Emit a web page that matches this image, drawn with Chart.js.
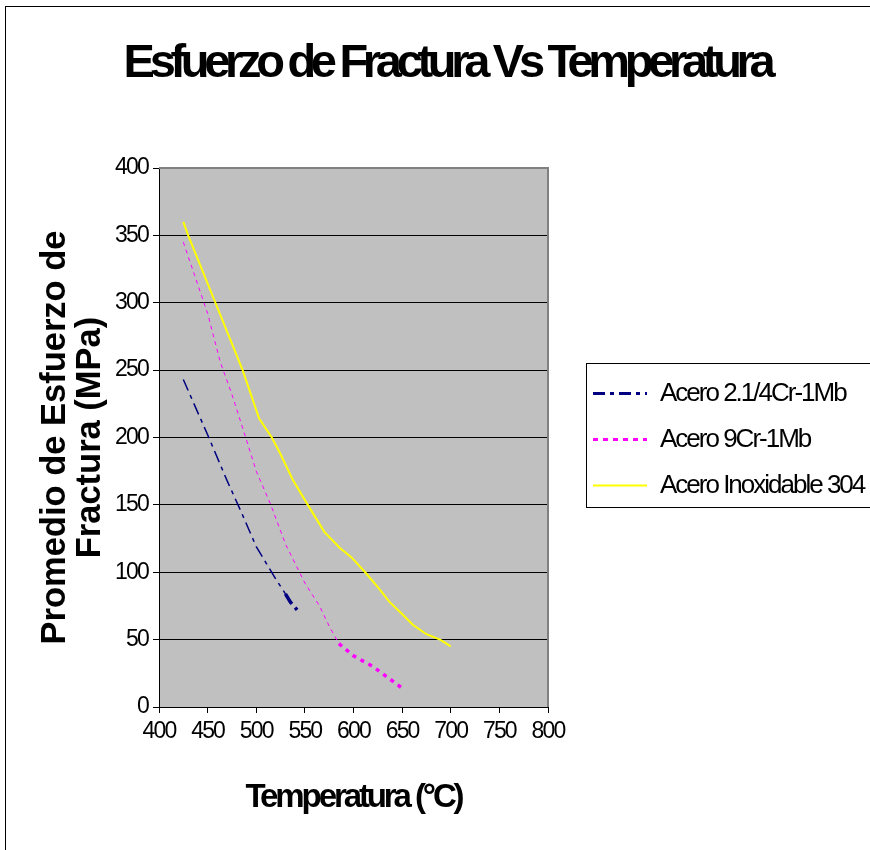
<!DOCTYPE html>
<html>
<head>
<meta charset="utf-8">
<script src="https://cdn.jsdelivr.net/npm/chart.js@4.4.1/dist/chart.umd.min.js"></script>
<style>
  html, body { margin: 0; padding: 0; background: #fff; }
  #wrap { width: 870px; height: 850px; }
</style>
</head>
<body>
<div id="wrap"><canvas id="fractureChart"></canvas></div>
<script>
// data
const seriesNames = ['Acero 2.1/4Cr-1Mb', 'Acero 9Cr-1Mb', 'Acero Inoxidable 304'];

const tempCrMo = [425, 450, 470, 485, 500, 510, 520, 530, 535, 542];
const stressCrMo = [243, 202, 168, 144, 119, 107, 95, 84, 78, 72];

const temp9Cr = [425, 450, 463, 475, 490, 500, 515, 530, 550, 565, 575, 585, 600, 620, 635, 650];
const stress9Cr = [345, 292, 256, 232, 198, 175, 150, 121, 92, 75, 60, 47, 38, 30, 22, 14];

const temp304 = [425, 430, 458, 486, 503, 516, 524, 538, 553, 570, 586, 598, 612, 625, 637, 650, 661, 675, 689, 700];
const stress304 = [360, 350, 300, 250, 214, 200, 189, 168, 150, 130, 118, 111, 100, 89, 78, 69, 61, 54, 50, 45];

const xTicks = [400, 450, 500, 550, 600, 650, 700, 750, 800];
const yTicks = [0, 50, 100, 150, 200, 250, 300, 350, 400];

const FONT = "'Liberation Sans', Arial, Helvetica, sans-serif";
const legendLineWidths = [3, 3, 2];
const legendDashes = [[12, 5, 4, 5], [5, 5], []];

function pts(xs, ys) {
  return xs.map(function (x, i) { return { x: x, y: ys[i] }; });
}

// draw a box/scale method with its own letter spacing (text in the original is condensed)
function spaced(obj, method, spacing, dx, dy) {
  const orig = obj[method];
  obj[method] = function () {
    const ctx = this.ctx;
    ctx.save();
    ctx.letterSpacing = spacing;
    ctx.translate(dx || 0, dy || 0);
    orig.apply(this, arguments);
    ctx.restore();
  };
}

const LEG_PAD = 20, LEG_FONT = 26, LEG_DX = 25, LEG_DY = 2;

const framePlugin = {
  id: 'frame',
  afterInit(chart) {
    spaced(chart.titleBlock, 'draw', '-5.3px', 12, 0);
    const legend = chart.legend;
    const fit = legend.fit;
    legend.fit = function () { fit.call(this); this.width = 322; };
    spaced(legend, 'draw', '-2px', LEG_DX, LEG_DY);
  },
  afterLayout(chart) {
    const { x, y } = chart.scales;
    if (!x._spaced) {
      spaced(x, 'drawLabels', '-1.8px');
      spaced(y, 'drawLabels', '-1.8px');
      spaced(x, 'drawTitle', '-3.1px');
      x._spaced = true;
    }
  },
  beforeDraw(chart) {
    const { ctx, chartArea: a } = chart;
    ctx.save();
    ctx.fillStyle = '#ffffff';
    ctx.fillRect(0, 0, chart.width, chart.height);
    ctx.fillStyle = '#c0c0c0';
    ctx.fillRect(a.left, a.top, a.right - a.left, a.bottom - a.top);
    ctx.restore();
  },
  afterDraw(chart) {
    const { ctx, chartArea: a, legend } = chart;
    ctx.save();
    // plot area top / right edge
    ctx.strokeStyle = '#808080';
    ctx.lineWidth = 2;
    ctx.beginPath();
    ctx.moveTo(a.left, a.top);
    ctx.lineTo(a.right, a.top);
    ctx.lineTo(a.right, a.bottom);
    ctx.stroke();
    // legend frame
    const n = chart.data.datasets.length;
    const itemsTop = (legend.top + LEG_PAD + legend.bottom - n * (LEG_FONT + LEG_PAD)) / 2 + LEG_DY;
    const fx = Math.round(legend.left + LEG_DX + LEG_PAD - 7) + 0.5;
    const fy = Math.round(itemsTop - 18) + 0.5;
    const fb = Math.round(itemsTop + n * (LEG_FONT + LEG_PAD) - LEG_PAD + 8) + 0.5;
    ctx.strokeStyle = '#000000';
    ctx.lineWidth = 1;
    ctx.strokeRect(fx, fy, chart.width, fb - fy);
    // outer chart frame
    ctx.strokeRect(5.5, 6.5, chart.width + 20, chart.height + 20);
    ctx.restore();
  }
};

const ctx = document.getElementById('fractureChart');

new Chart(ctx, {
  type: 'line',
  data: {
    datasets: [
      {
        label: seriesNames[0],
        data: pts(tempCrMo, stressCrMo),
        borderColor: '#000080',
        backgroundColor: '#000080',
        borderWidth: 1.5,
        borderDash: [12, 5, 4, 5],
        segment: {
          borderWidth: function (c) { return c.p0.parsed.x >= 530 ? 3.5 : 1.5; }
        }
      },
      {
        label: seriesNames[1],
        data: pts(temp9Cr, stress9Cr),
        borderColor: '#ff00ff',
        backgroundColor: '#ff00ff',
        borderWidth: 1,
        borderDash: [4, 4],
        segment: {
          borderWidth: function (c) { return c.p0.parsed.x >= 585 ? 3.5 : 1; },
          borderDash: function (c) { return c.p0.parsed.x >= 585 ? [4, 5] : [4, 4]; }
        }
      },
      {
        label: seriesNames[2],
        data: pts(temp304, stress304),
        borderColor: '#ffff00',
        backgroundColor: '#ffff00',
        borderWidth: 2
      }
    ]
  },
  options: {
    responsive: true,
    maintainAspectRatio: false,
    animation: false,
    layout: { padding: 0 },
    elements: {
      point: { radius: 0, hoverRadius: 0, pointStyle: 'line' },
      line: { tension: 0 }
    },
    plugins: {
      tooltip: { enabled: false },
      title: {
        display: true,
        text: 'Esfuerzo de Fractura Vs Temperatura',
        color: '#000',
        font: { family: FONT, size: 47, weight: 'bold', lineHeight: 1.2 },
        padding: { top: 36, bottom: 75.6 }
      },
      legend: {
        display: true,
        position: 'right',
        fullSize: false,
        align: 'center',
        labels: {
          color: '#000',
          font: { family: FONT, size: LEG_FONT },
          usePointStyle: true,
          pointStyle: 'line',
          pointStyleWidth: 54,
          boxWidth: 54,
          padding: LEG_PAD,
          generateLabels: function (chart) {
            const items = Chart.defaults.plugins.legend.labels.generateLabels(chart);
            items.forEach(function (it, i) {
              it.lineWidth = legendLineWidths[i];
              it.lineDash = legendDashes[i];
              it.pointStyle = 'line';
            });
            return items;
          }
        }
      }
    },
    scales: {
      x: {
        type: 'linear',
        min: xTicks[0],
        max: xTicks[xTicks.length - 1],
        afterBuildTicks: function (s) { s.ticks = xTicks.map(function (v) { return { value: v }; }); },
        afterFit: function (s) { s.height = 143; },
        grid: { drawOnChartArea: false, drawTicks: true, tickLength: 6, tickColor: '#000' },
        border: { display: true, color: '#000', width: 1 },
        ticks: {
          color: '#000',
          font: { family: FONT, size: 23 },
          padding: 5,
          autoSkip: false,
          maxRotation: 0
        },
        title: {
          display: true,
          text: 'Temperatura (°C)',
          color: '#000',
          font: { family: FONT, size: 33, weight: 'bold', lineHeight: 1.2 },
          padding: { top: 0, bottom: 32 }
        }
      },
      y: {
        min: yTicks[0],
        max: yTicks[yTicks.length - 1],
        afterBuildTicks: function (s) { s.ticks = yTicks.map(function (v) { return { value: v }; }); },
        afterFit: function (s) { s.width = 159; },
        grid: {
          color: function (c) { return c.tick && c.tick.value === 400 ? 'rgba(0,0,0,0)' : '#000'; },
          tickColor: '#000',
          tickLength: 6,
          lineWidth: 1
        },
        border: { display: true, color: '#000', width: 1 },
        ticks: {
          color: '#000',
          font: { family: FONT, size: 23 },
          padding: 5
        },
        title: {
          display: true,
          text: ['Promedio de Esfuerzo de', 'Fractura (MPa)'],
          color: '#000',
          font: { family: FONT, size: 34.5, weight: 'bold', lineHeight: 1.015 },
          padding: { top: 37.5, bottom: 0 }
        }
      }
    }
  },
  plugins: [framePlugin]
});
</script>
</body>
</html>
